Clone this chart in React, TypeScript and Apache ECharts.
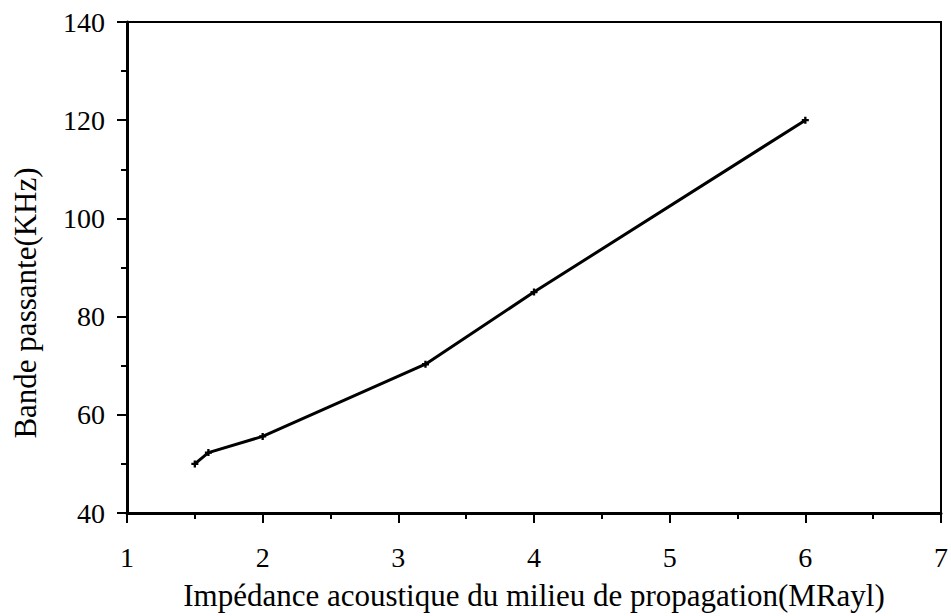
import React, { useEffect, useRef } from "react";
import * as echarts from "echarts";

const impedance = [1.5, 1.6, 2.0, 3.2, 4.0, 6.0];
const bandwidth = [50, 52.3, 55.6, 70.3, 85, 120];
const xTitle = "Impédance acoustique du milieu de propagation(MRayl)";
const yTitle = "Bande passante(KHz)";

export default function App() {
  const ref = useRef<HTMLDivElement>(null);
  useEffect(() => {
    if (!ref.current) return;
    const chart = echarts.init(ref.current, null, { renderer: "svg" });
    const font = "Liberation Serif";
    chart.setOption({
      animation: false,
      backgroundColor: "#ffffff",
      grid: {
        left: 127,
        top: 22,
        right: 9,
        bottom: 103,
        show: true,
        borderColor: "#000",
        borderWidth: 2,
      },
      graphic: [
        {
          type: "text",
          x: 25,
          y: 303,
          rotation: Math.PI / 2,
          style: {
            text: yTitle,
            fontFamily: font,
            fontSize: 31,
            fill: "#000",
            align: "center",
            verticalAlign: "middle",
          },
        },
      ],
      xAxis: {
        type: "value",
        min: 1,
        max: 7,
        interval: 1,
        name: xTitle,
        nameLocation: "middle",
        nameGap: 67,
        nameTextStyle: { fontFamily: font, fontSize: 31, color: "#000" },
        axisLine: { show: true, onZero: false, lineStyle: { color: "#000", width: 3 } },
        axisTick: { show: true, inside: false, length: 10, lineStyle: { color: "#000", width: 2 } },
        minorTick: { show: true, splitNumber: 2, length: 6, lineStyle: { color: "#000", width: 2 } },
        splitLine: { show: false },
        axisLabel: { fontFamily: font, fontSize: 28, color: "#000", margin: 30 },
      },
      yAxis: {
        type: "value",
        min: 40,
        max: 140,
        interval: 20,
        axisLine: { show: true, onZero: false, lineStyle: { color: "#000", width: 3 } },
        axisTick: { show: true, inside: false, length: 10, lineStyle: { color: "#000", width: 2 } },
        minorTick: { show: true, splitNumber: 2, length: 6, lineStyle: { color: "#000", width: 2 } },
        splitLine: { show: false },
        axisLabel: { fontFamily: font, fontSize: 28, color: "#000", margin: 22 },
      },
      series: [
        {
          type: "line",
          data: impedance.map((x, i) => [x, bandwidth[i]]),
          lineStyle: { color: "#000", width: 3 },
          itemStyle: { color: "#000" },
          symbol: "path://M-1,-3h2v2h2v2h-2v2h-2v-2h-2v-2h2z",
          symbolSize: 7,
          showSymbol: true,
        },
      ],
    });
    return () => chart.dispose();
  }, []);
  return <div ref={ref} style={{ width: 951, height: 616, position: "absolute", left: 0, top: 0 }} />;
}
